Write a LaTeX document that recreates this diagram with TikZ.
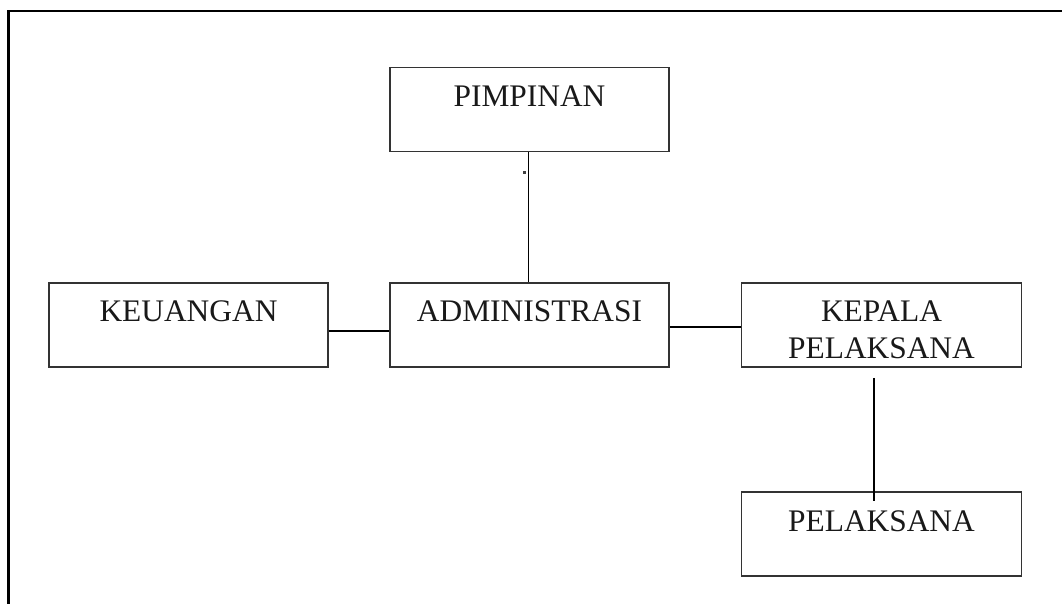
\documentclass[tikz,border=0pt]{standalone}
\usepackage{fontspec}
\setmainfont{Liberation Serif}
\usetikzlibrary{calc}
\begin{document}
\begin{tikzpicture}[x=1pt,y=-1pt,
  orgbox/.style={draw=black!80, line width=1.8pt, rectangle, inner sep=0pt,
    minimum height=84pt},
  lbl/.style={anchor=base, inner sep=0pt, text=black!90,
    font=\fontsize{31.4}{37}\selectfont},
  conn/.style={draw=black, line width=1.6pt},
  frame/.style={draw=black, line width=2.2pt}]
\useasboundingbox (0,0) rectangle (1062,603);
\fill[white] (0,0) rectangle (1062,603);
% outer frame
\coordinate (fbl) at (8.5,605);
\coordinate (ftr) at (1064,11);
\draw[frame] (fbl) |- (ftr);
% boxes
\node[orgbox, minimum width=279pt] (pim) at (529.5,109.5) {};
\node[orgbox, minimum width=279pt] (keu) at (188.5,325) {};
\node[orgbox, minimum width=279pt] (adm) at (529.5,325) {};
\node[orgbox, minimum width=280pt] (kep) at (881.5,325) {};
\node[orgbox, minimum width=280pt] (pel) at (881.5,534) {};
% labels
\node[lbl] (pimT) at ($(pim.north)+(0,40)$) {PIMPINAN};
\node[lbl] (keuT) at ($(keu.north)+(0,39)$) {KEUANGAN};
\node[lbl] (admT) at ($(adm.north)+(0,39)$) {ADMINISTRASI};
\node[lbl] (kepT1) at ($(kep.north)+(0,39.5)$) {KEPALA};
\node[lbl] (kepT2) at ($(kep.north)+(0,76)$) {PELAKSANA};
\node[lbl] (pelT) at ($(pel.north)+(0,40)$) {PELAKSANA};
% connectors
\draw[conn] ($(pim.south)+(-1,0)$) -- ($(adm.north)+(-1,0)$);
\draw[conn] ($(keu.east)+(0,6)$) -- ($(adm.west)+(0,6)$);
\draw[conn] ($(adm.east)+(0,2)$) -- ($(kep.west)+(0,2)$);
\draw[conn] ($(kep.south)+(-7.5,10)$) -- ($(pel.north)+(-7.5,10)$);
% small speck
\fill[black!75] (523,171) rectangle (525.5,173.5);
\end{tikzpicture}
\end{document}
